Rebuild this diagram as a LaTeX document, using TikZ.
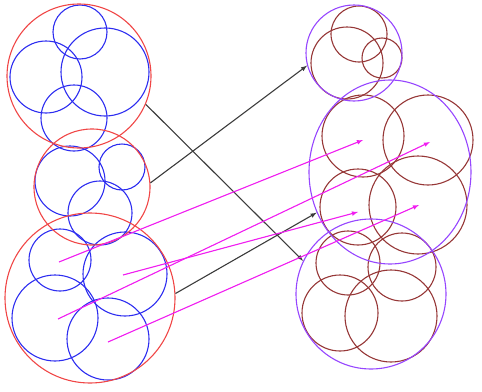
\documentclass[tikz,border=0pt]{standalone}
\usepackage{xcolor}
\usepackage{tikz}
\usetikzlibrary{shapes.geometric, positioning}

\definecolor{redrim}{RGB}{240,70,70}
\definecolor{bluerim}{RGB}{45,45,240}
\definecolor{violetrim}{RGB}{150,70,255}
\definecolor{brownrim}{RGB}{150,55,55}
\definecolor{pinkarrow}{RGB}{240,30,240}
\definecolor{greyarrow}{RGB}{60,60,60}

\begin{document}
\begin{tikzpicture}[>=latex, x=1pt, y=-1pt,
    redcirc/.style={draw=redrim, line width=1.1pt, circle, inner sep=0pt},
    violetcirc/.style={draw=violetrim, line width=1.1pt, circle, inner sep=0pt},
    bluecirc/.style={draw=bluerim, line width=1.1pt},
    browncirc/.style={draw=brownrim, line width=1.1pt},
    greyarr/.style={->, draw=greyarrow, line width=1.1pt},
    pinkarr/.style={->, draw=pinkarrow, fill=pinkarrow, line width=1.1pt}]
    \useasboundingbox (0,0) rectangle (482,391);

    % Các đường tròn nhỏ bên trái
    \foreach \cx/\cy/\r in {80/32/27, 46/77/36, 105/72/44, 74/118/33,
                            70/181/35, 122/167/23, 100/213/32,
                            60/260/31, 125/274/42, 55/318/43, 108/339/41}
        \draw[bluecirc] (\cx,\cy) circle (\r);

    % Các đường tròn lớn bên trái
    \node[redcirc, minimum size=144] (A) at (79,76) {};
    \node[redcirc, minimum size=116] (B) at (92,187) {};
    \node[redcirc, minimum size=170] (C) at (90,298) {};

    % Các đường tròn nhỏ bên phải
    \foreach \cx/\cy/\r in {359/34/28, 347/63/36, 382/58/20,
                            363/136/41, 428/140/45, 358/207/38, 418/205/49,
                            348/263/32, 402/267/34, 340/313/38, 391/316/46}
        \draw[browncirc] (\cx,\cy) circle (\r);

    % Các đường tròn lớn bên phải
    \node[violetcirc, minimum size=96] (D) at (354,53) {};
    \node[violetcirc, ellipse, minimum width=162, minimum height=184] (E) at (390,172) {};
    \node[violetcirc, minimum size=150] (F) at (371,294) {};

    % Mũi tên đen
    \draw[greyarr] (A.-23) -- (F.154);
    \draw[greyarr] (B.4) -- (D.-165);
    \draw[greyarr] (C.3) -- (E.209);

    % Mũi tên hồng
    \coordinate (p1) at (59,262);
    \coordinate (p2) at (123,275);
    \coordinate (p3) at (58,319);
    \coordinate (p4) at (108,342);
    \coordinate (q1) at (363,140);
    \coordinate (q2) at (358,212);
    \coordinate (q3) at (430,142);
    \coordinate (q4) at (419,205);
    \foreach \s/\t in {p1/q1, p2/q2, p3/q3, p4/q4}
        \draw[pinkarr] (\s) -- (\t);
\end{tikzpicture}
\end{document}
